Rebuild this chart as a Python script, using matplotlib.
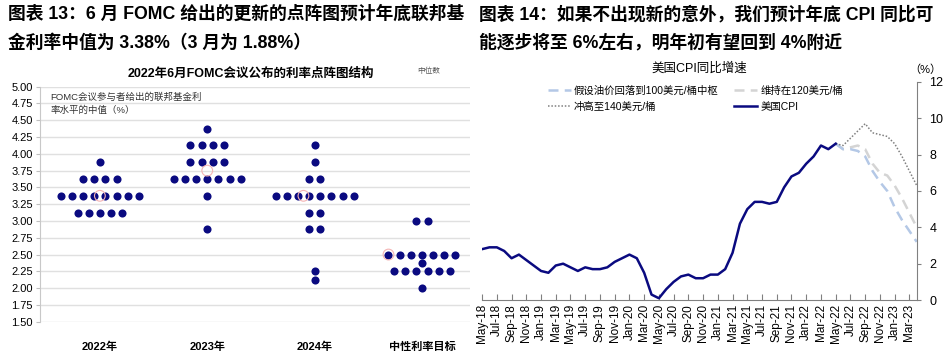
import matplotlib.pyplot as plt
import numpy as np
import pandas as pd

plt.rcParams['font.family'] = ['Liberation Sans', 'Noto Sans CJK SC']

# ---- left panel: June 2022 FOMC dot plot ----
dot_cats = ['2022年', '2023年', '2024年', '中性利率目标']
dots_2022 = {3.875: 1, 3.625: 4, 3.375: 8, 3.125: 5}
dots_2023 = {4.375: 1, 4.125: 4, 3.875: 4, 3.625: 7, 3.375: 1, 2.875: 1}
dots_2024 = {4.125: 1, 3.875: 1, 3.625: 2, 3.375: 8, 3.125: 2, 2.875: 2, 2.25: 1, 2.125: 1}
dots_longrun = {3.0: 2, 2.5: 7, 2.375: 1, 2.25: 6, 2.0: 1}
dot_levels = [dots_2022, dots_2023, dots_2024, dots_longrun]
median_vals = [3.375, 3.75, 3.375, 2.5]
median_slot = [0, 0, -1, -3]  # where the median ring sits in its row, in dot widths

# ---- right panel: US CPI yoy ----
months = pd.date_range('2018-05-01', '2023-04-01', freq='MS')
cpi_actual = [2.8, 2.9, 2.9, 2.7, 2.3, 2.5, 2.2, 1.9,
              1.6, 1.5, 1.9, 2.0, 1.8, 1.6, 1.8, 1.7, 1.7, 1.8, 2.1, 2.3,
              2.5, 2.3, 1.5, 0.3, 0.1, 0.6, 1.0, 1.3, 1.4, 1.2, 1.2, 1.4,
              1.4, 1.7, 2.6, 4.2, 5.0, 5.4, 5.4, 5.3, 5.4, 6.2, 6.8, 7.0,
              7.5, 7.9, 8.5, 8.3, 8.6]
# scenarios, May-22 .. Apr-23
oil_100 = [8.6, 8.3, 8.3, 8.2, 7.9, 7.1, 6.5, 6.0, 5.1, 4.4, 3.8, 3.2]
oil_120 = [8.6, 8.3, 8.4, 8.5, 8.3, 7.5, 7.0, 6.85, 6.3, 5.6, 4.8, 4.0]
oil_140 = [8.6, 8.5, 8.9, 9.3, 9.7, 9.2, 9.1, 9.0, 8.6, 7.9, 7.1, 6.3]

navy = '#0a0a80'

fig = plt.figure(figsize=(9.49, 3.53), dpi=100)

fig.text(0.008, 0.96, '图表 13：6 月 FOMC 给出的更新的点阵图预计年底联邦基', fontsize=12.8,
         fontweight='bold', va='center')
fig.text(0.008, 0.878, '金利率中值为 3.38%（3 月为 1.88%）', fontsize=12.8,
         fontweight='bold', va='center')
fig.text(0.505, 0.96, '图表 14：如果不出现新的意外，我们预计年底 CPI 同比可', fontsize=12.8,
         fontweight='bold', va='center')
fig.text(0.505, 0.878, '能逐步将至 6%左右，明年初有望回到 4%附近', fontsize=12.8,
         fontweight='bold', va='center')

# left
ax = fig.add_axes([0.042, 0.0887, 0.453, 0.6657])
step = 0.104
for i, levels in enumerate(dot_levels):
    for val, n in levels.items():
        xs = i + (np.arange(n) - (n - 1) / 2) * step
        ax.scatter(xs, [val] * n, s=34, color=navy, zorder=3, linewidths=0)
    ax.scatter(i + median_slot[i] * step, median_vals[i], s=60, facecolors='none',
               edgecolors='#f4b4b4', linewidths=0.8, zorder=4)

ax.set_xlim(-0.559, 3.445)
ax.set_ylim(1.5, 5.0)
ax.set_yticks(np.arange(1.5, 5.01, 0.25))
ax.set_yticklabels([f'{v:.2f}' for v in np.arange(1.5, 5.01, 0.25)], fontsize=8)
ax.set_xticks(range(4))
ax.set_xticklabels(dot_cats, fontsize=8, fontweight='bold')
ax.tick_params(axis='x', length=0, pad=14)
ax.tick_params(axis='y', length=3, color='#bfbfbf', pad=2)
ax.grid(axis='y', color='#e0e0e0', linewidth=1)
ax.set_axisbelow(True)
for s in ['top', 'right', 'bottom']:
    ax.spines[s].set_visible(False)
ax.spines['left'].set_color('#c8c8c8')
ax.text(0.025, 0.975, 'FOMC会议参与者给出的联邦基金利\n率水平的中值（%）', transform=ax.transAxes,
        fontsize=6.8, color='#333333', va='top', linespacing=1.5)
ax.text(0.49, 1.055, '2022年6月FOMC会议公布的利率点阵图结构', transform=ax.transAxes,
        fontsize=9, fontweight='bold', ha='center', va='center')
ax.text(0.905, 1.065, '中位数', transform=ax.transAxes, fontsize=5.5, color='#555555',
        ha='center', va='center')

# right
ax2 = fig.add_axes([0.508, 0.150, 0.458, 0.618])
xf = np.arange(48, 60)
ax2.plot(xf, oil_120, color='#d4d4d4', lw=1.8, dashes=(4, 2.5), label='维持在120美元/桶')
ax2.plot(xf, oil_100, color='#b4c8e6', lw=1.8, dashes=(4, 2.5), label='假设油价回落到100美元/桶中枢')
ax2.plot(xf, oil_140, color='#808080', lw=1.1, linestyle=(0, (1, 1.2)), label='冲高至140美元/桶')
ax2.plot(np.arange(len(cpi_actual)), cpi_actual, color=navy, lw=1.8, label='美国CPI')

ax2.set_xlim(0, 59)
ax2.set_ylim(0, 12)
ax2.yaxis.tick_right()
ax2.set_yticks(range(0, 13, 2))
ax2.tick_params(axis='y', labelsize=9, length=3, color='#808080', pad=6)
ax2.set_xticks(range(0, 60, 2))
ax2.set_xticklabels(months[::2].strftime('%b-%y'), rotation=90, fontsize=8.5)
ax2.tick_params(axis='x', direction='in', length=4, color='#808080', pad=3)
for s in ['top', 'left']:
    ax2.spines[s].set_visible(False)
for s in ['right', 'bottom']:
    ax2.spines[s].set_color('#808080')
ax2.text(0.5, 1.06, '美国CPI同比增速', transform=ax2.transAxes, fontsize=9,
         ha='center', va='center')
ax2.text(1.02, 1.055, '（%）', transform=ax2.transAxes, fontsize=8, ha='center', va='center')

h, l = ax2.get_legend_handles_labels()
order = [1, 2, 0, 3]
ax2.legend([h[k] for k in order], [l[k] for k in order], ncol=2, loc='upper left',
           bbox_to_anchor=(0.13, 1.025), frameon=False, fontsize=7.5, handlelength=2.2,
           handletextpad=0.3, columnspacing=1.5, labelspacing=0.55)

fig.savefig('out.png', dpi=100)
